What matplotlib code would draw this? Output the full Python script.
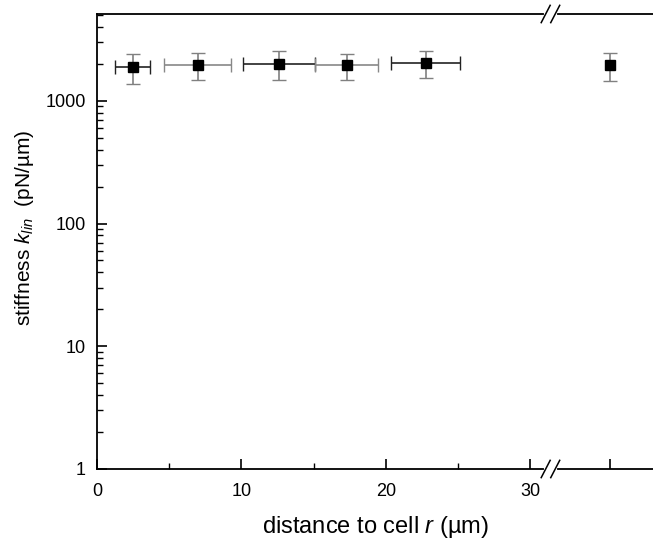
import matplotlib.pyplot as plt
import matplotlib.transforms as mtransforms
from matplotlib.ticker import LogLocator, FixedLocator, NullFormatter

plt.rcParams['font.family'] = ['Liberation Sans', 'DejaVu Sans']
plt.rcParams['mathtext.fontset'] = 'custom'
plt.rcParams['mathtext.it'] = 'Liberation Sans:italic'
plt.rcParams['mathtext.rm'] = 'Liberation Sans'

# data
r = [2.47, 6.97, 12.6, 17.28, 22.77, 35.5]
r_err = [1.2, 2.3, 2.5, 2.2, 2.4, 0.0]
k = [1883, 1965, 1990, 1940, 2015, 1940]
k_lo = [1368, 1475, 1475, 1475, 1530, 1455]
k_hi = [2415, 2450, 2523, 2385, 2523, 2450]
xerr_colors = ['#222222', '#888888', '#222222', '#888888', '#222222', '#222222']

fig = plt.figure(figsize=(6.53, 5.44), dpi=100)
ax = fig.add_axes([0.1485, 0.1379, 0.8515, 0.8364])

for i in range(len(r)):
    yerr = [[k[i] - k_lo[i]], [k_hi[i] - k[i]]]
    ax.errorbar(r[i], k[i], yerr=yerr, fmt='none', ecolor='#808080',
                elinewidth=1.2, capsize=5, capthick=1.0)
    if r_err[i] > 0:
        ax.errorbar(r[i], k[i], xerr=r_err[i], fmt='none', ecolor=xerr_colors[i],
                    elinewidth=1.2, capsize=5, capthick=1.0)
ax.plot(r, k, 's', color='black', markersize=6.5, linestyle='none', zorder=5)

ax.set_yscale('log')
ax.set_ylim(1, 5100)
ax.set_xlim(0, 38.5)

ax.xaxis.set_major_locator(FixedLocator([0, 10, 20, 30, 35.5]))
ax.set_xticklabels(['0', '10', '20', '30', ''])
ax.xaxis.set_minor_locator(FixedLocator([5, 15, 25]))
ax.yaxis.set_minor_locator(LogLocator(base=10, subs=range(2, 10), numticks=50))
ax.yaxis.set_minor_formatter(NullFormatter())
ax.set_yticks([1, 10, 100, 1000])
ax.set_yticklabels(['1', '10', '100', '1000'])

ax.tick_params(which='major', direction='in', length=7, width=1.2, labelsize=13)
ax.tick_params(axis='x', which='major', pad=10)
ax.tick_params(axis='y', which='major', pad=8)
ax.tick_params(which='minor', direction='in', length=4, width=1.0)
ax.tick_params(axis='x', top=False)

for side in ['left', 'bottom', 'top']:
    ax.spines[side].set_linewidth(1.3)
ax.spines['right'].set_visible(False)

ax.set_xlabel(r'distance to cell $r$ (µm)', fontsize=17, labelpad=10)
ax.set_ylabel(r'stiffness $k_{lin}$  (pN/µm)', fontsize=15)
ax.yaxis.set_label_coords(-0.11, 0.53)

# axis break marks
trans = mtransforms.blended_transform_factory(ax.transData, ax.transAxes)
for yb in [0.0, 1.0]:
    ax.plot([31.07, 31.73], [yb, yb], color='white', linewidth=3,
            transform=trans, clip_on=False, zorder=6)
    for xc in [31.07, 31.73]:
        ax.plot([xc - 0.31, xc + 0.31], [yb - 0.019, yb + 0.019], color='black',
                linewidth=1.1, transform=trans, clip_on=False, zorder=7)

fig.savefig('out.png', dpi=100)
